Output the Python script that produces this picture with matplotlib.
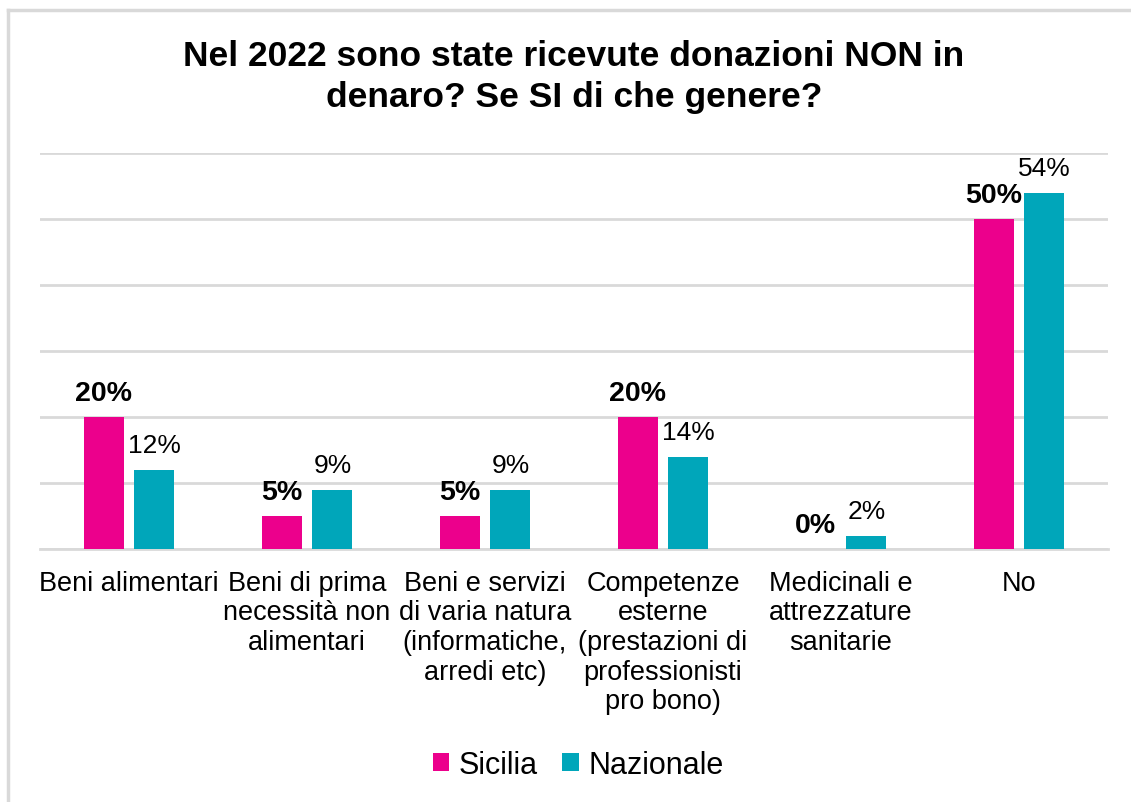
import matplotlib.pyplot as plt
import numpy as np
from matplotlib.lines import Line2D

plt.rcParams['font.family'] = ['Liberation Sans', 'DejaVu Sans']

categorie = ['Beni alimentari',
             'Beni di prima\nnecessità non\nalimentari',
             'Beni e servizi\ndi varia natura\n(informatiche,\narredi etc)',
             'Competenze\nesterne\n(prestazioni di\nprofessionisti\npro bono)',
             'Medicinali e\nattrezzature\nsanitarie',
             'No']
sicilia = [20, 5, 5, 20, 0, 50]
nazionale = [12, 9, 9, 14, 2, 54]

col_sic = '#EC008C'
col_naz = '#00A6BA'

fig = plt.figure(figsize=(11.31, 8.03), dpi=100)
ax = fig.add_axes([40/1131, 253/803, 1068/1131, 396/803])

x = np.arange(len(categorie))
w = 0.225
off = 0.143
b1 = ax.bar(x - off, sicilia, w, color=col_sic, label='Sicilia', zorder=3)
b2 = ax.bar(x + off, nazionale, w, color=col_naz, label='Nazionale', zorder=3)

for xi, v in zip(x, sicilia):
    ax.annotate(f'{v}%', (xi - off, v), xytext=(0, 8), textcoords='offset points',
                ha='center', va='bottom', fontsize=20.5, fontweight='bold')
for xi, v in zip(x, nazionale):
    ax.annotate(f'{v}%', (xi + off, v), xytext=(0, 9), textcoords='offset points',
                ha='center', va='bottom', fontsize=19)

ax.set_xlim(-0.5, 5.5)
ax.set_ylim(0, 60)
ax.set_yticks(np.arange(0, 61, 10))
ax.yaxis.grid(True, color='#d9d9d9', lw=2)
ax.set_axisbelow(True)
ax.tick_params(axis='y', left=False, labelleft=False)
ax.tick_params(axis='x', length=0, pad=15)
ax.set_xticks(x)
ax.set_xticklabels(categorie, fontsize=19.5, linespacing=1.18, va='top')
for s in ['top', 'right', 'left']:
    ax.spines[s].set_visible(False)
ax.spines['bottom'].set_color('#d9d9d9')
ax.spines['bottom'].set_linewidth(2)

fig.text(574/1131, 1 - 77/803, 'Nel 2022 sono state ricevute donazioni NON in\ndenaro? Se SI di che genere?',
         ha='center', va='center', fontsize=25.5, fontweight='bold', linespacing=1.3)

fig.legend(handles=[b1, b2], loc='center', bbox_to_anchor=(578/1131, 1 - 766/803),
           ncol=2, frameon=False, fontsize=22, handlelength=0.55, handleheight=0.55,
           handletextpad=0.3, columnspacing=0.8)

# cornice grigia
fig.add_artist(Line2D([8/1131, 8/1131], [0, 1 - 11/803], color='#d9d9d9', lw=2.5, transform=fig.transFigure))
fig.add_artist(Line2D([8/1131, 1], [1 - 11/803, 1 - 11/803], color='#d9d9d9', lw=2.5, transform=fig.transFigure))

fig.savefig('out.png', dpi=100)
